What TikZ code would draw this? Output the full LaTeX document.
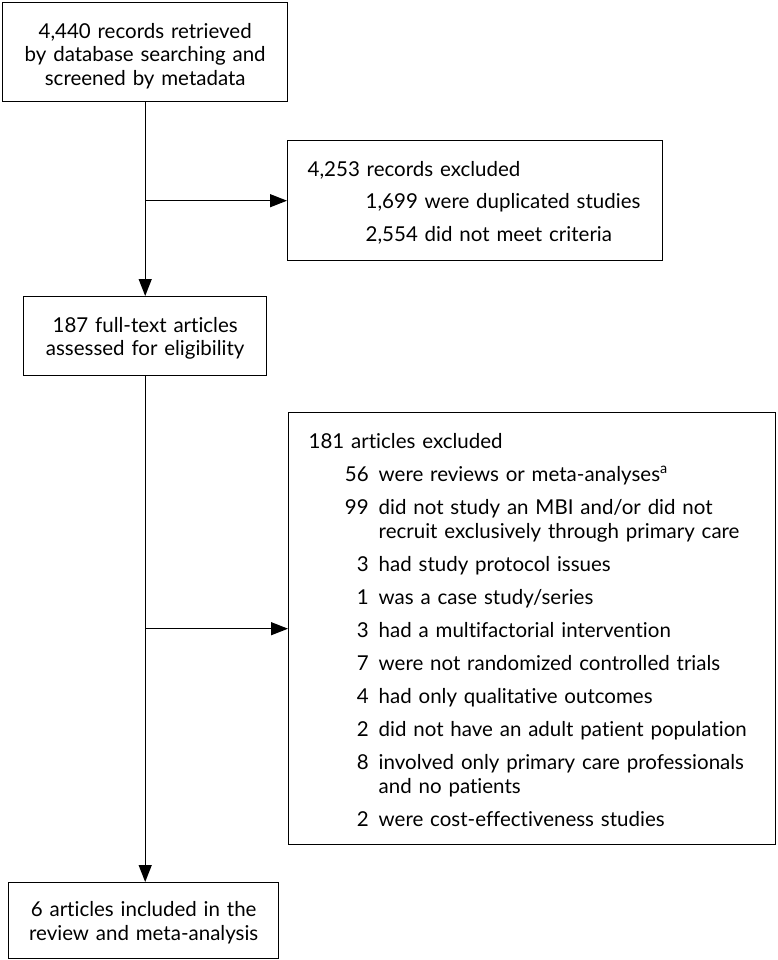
\documentclass[tikz,border=0pt]{standalone}
\usepackage{fontspec}
\setmainfont[WordSpace=1.3, Ligatures=NoCommon]{Lato}
\usepackage{array}
\usetikzlibrary{arrows.meta,calc}
\newcommand{\lowerby}[2]{\raisebox{-#1}[\height][\depth]{#2}}
\tikzset{
  box/.style={draw, line width=1.4pt, inner xsep=20pt, inner ysep=0pt, anchor=north west},
  ctext/.style={align=center, font=\fontsize{20.5}{23.5}\selectfont},
  ltext/.style={align=left, font=\fontsize{20.5}{24}\selectfont},
  arr/.style={line width=1.3pt, -{Triangle[length=17pt,width=13pt]}}
}
\begin{document}
\begin{tikzpicture}[x=1pt,y=-1pt]
\useasboundingbox (0,0) rectangle (777,960);
\node[box, ctext, minimum width=285, minimum height=99] (b1) at (2,2)
  {\lowerby{5pt}{\begin{tabular}{@{}c@{}}4,440 records retrieved\\by database searching and\\screened by metadata\end{tabular}}};
\node[box, ltext, minimum width=375, minimum height=120, text width=335] (b2) at (287,140)
  {\lowerby{3.5pt}{\begin{tabular}{@{}l@{}}
   4,253 records excluded\\[8pt]
   \hspace{58pt}1,699 were duplicated studies\\[8pt]
   \hspace{58pt}2,554 did not meet criteria
   \end{tabular}}};
\node[box, ctext, minimum width=243, minimum height=79] (b3) at (23,296)
  {\lowerby{3pt}{\begin{tabular}{@{}c@{}}187 full-text articles\\assessed for eligibility\end{tabular}}};
\node[box, ltext, minimum width=487, minimum height=432, text width=447] (b4) at (288,412)
  {\lowerby{4pt}{\begin{tabular}{@{}>{\raggedleft\arraybackslash}p{60pt}@{\hspace{10pt}}l@{}}
   \multicolumn{2}{@{}l@{}}{181 articles excluded}\\[9pt]
   56 & were reviews or meta-analyses\textsuperscript{a}\\[9pt]
   99 & did not study an MBI and/or did not\\
      & recruit exclusively through primary care\\[9pt]
   3 & had study protocol issues\\[9pt]
   1 & was a case study/series\\[9pt]
   3 & had a multifactorial intervention\\[9pt]
   7 & were not randomized controlled trials\\[9pt]
   4 & had only qualitative outcomes\\[9pt]
   2 & did not have an adult patient population\\[9pt]
   8 & involved only primary care professionals\\
     & and no patients\\[9pt]
   2 & were cost-effectiveness studies
   \end{tabular}}};
\node[box, ctext, minimum width=270, minimum height=76] (b5) at (8,882)
  {\lowerby{3pt}{\begin{tabular}{@{}c@{}}6 articles included in the\\review and meta-analysis\end{tabular}}};
\draw[arr] (b1.south) -- (b3.north);
\draw[arr] (b3.south) -- (b3.south |- b5.north);
\draw[arr] (b1.south |- b2.west) -- (b2.west);
\draw[arr] (b3.south |- b4.west) -- (b4.west);
\end{tikzpicture}
\end{document}
